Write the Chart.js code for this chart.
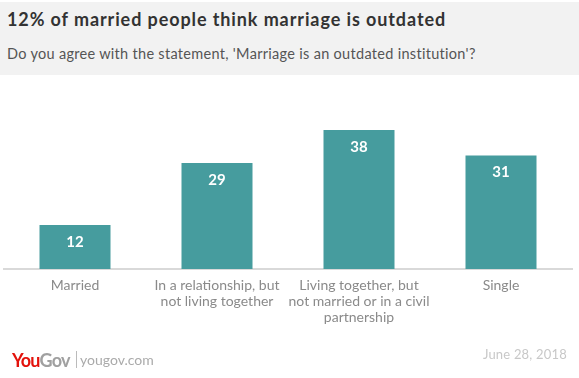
<!DOCTYPE html>
<html>
<head>
<meta charset="utf-8">
<script src="https://cdn.jsdelivr.net/npm/chart.js@4"></script>
<style>
  body { margin: 0; width: 579px; height: 378px; background: #fff; position: relative; overflow: hidden; font-family: Lato, sans-serif; }
  #head { position: absolute; left: 0; top: 2px; width: 579px; height: 73px; background: #f2f2f2; }
  #title { position: absolute; left: 7px; top: 6px; font-size: 18px; font-weight: bold; letter-spacing: 0.9px; color: #333; white-space: nowrap; }
  #sub { position: absolute; left: 7px; top: 43px; font-size: 14.5px; letter-spacing: 0.3px; color: #555; white-space: nowrap; }
  #chartBox { position: absolute; left: 0; top: 0; width: 579px; height: 378px; }
  #logo { position: absolute; left: 12px; top: 349px; font-size: 18px; font-weight: bold; letter-spacing: -0.8px; white-space: nowrap; }
  #logo .you { color: #e3120b; }
  #logo .gov { color: #a0a0a0; }
  #sep { position: absolute; left: 76px; top: 351px; width: 1px; height: 17px; background: #bbb; }
  #site { position: absolute; left: 80px; top: 351px; font-size: 14px; color: #aaa; }
  #date { position: absolute; right: 12px; top: 346px; font-size: 13px; letter-spacing: 0.2px; color: #c8c8c8; }
</style>
</head>
<body>
<div id="head">
  <div id="title">12% of married people think marriage is outdated</div>
  <div id="sub">Do you agree with the statement, 'Marriage is an outdated institution'?</div>
</div>
<div id="chartBox"><canvas id="myChart" width="579" height="378"></canvas></div>
<div id="logo"><span class="you">You</span><span class="gov">Gov</span></div>
<div id="sep"></div>
<div id="site">yougov.com</div>
<div id="date">June 28, 2018</div>
<script>
const ctx = document.getElementById('myChart');

const categories = [
  'Married',
  ['In a relationship, but', 'not living together'],
  ['Living together, but', 'not married or in a civil', 'partnership'],
  'Single'
];
const values = [12, 29, 38, 31];

// white numbers near the top of each bar
const barLabels = {
  id: 'barLabels',
  afterDatasetsDraw(chart) {
    const c = chart.ctx;
    const meta = chart.getDatasetMeta(0);
    c.save();
    c.fillStyle = '#fff';
    c.font = 'bold 15px Lato';
    c.textAlign = 'center';
    c.textBaseline = 'middle';
    meta.data.forEach((bar, i) => {
      c.fillText(values[i], bar.x, bar.y + 17);
    });
    c.restore();
  }
};

new Chart(ctx, {
  type: 'bar',
  data: {
    labels: categories,
    datasets: [{
      data: values,
      backgroundColor: '#469c9e',
      categoryPercentage: 1,
      barPercentage: 0.5
    }]
  },
  options: {
    responsive: false,
    animation: false,
    events: [],
    layout: { padding: { left: 4, right: 7, top: 122.7, bottom: 49 } },
    plugins: { legend: { display: false }, tooltip: { enabled: false } },
    scales: {
      x: {
        grid: { display: false, drawTicks: false },
        border: { display: true, color: '#d9d9d9', width: 2 },
        ticks: {
          color: '#8a8a8a',
          font: { family: 'Lato', size: 14, lineHeight: 1.15 },
          padding: 8,
          maxRotation: 0,
          autoSkip: false
        },
        afterFit: s => { s.height = 60; }
      },
      y: {
        display: false,
        min: 0,
        max: 40
      }
    }
  },
  plugins: [barLabels]
});
</script>
</body>
</html>
